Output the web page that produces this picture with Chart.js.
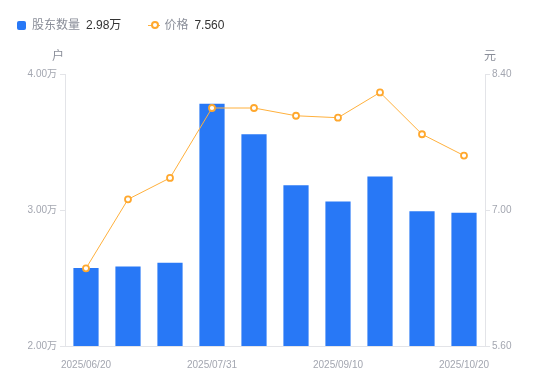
<!DOCTYPE html>
<html>
<head>
<meta charset="utf-8">
<script src="https://cdn.jsdelivr.net/npm/chart.js@4"></script>
<style>
    html, body { margin: 0; padding: 0; background: #fff; }
    body { width: 550px; height: 381px; position: relative; overflow: hidden;
           font-family: "Liberation Sans", "Noto Sans CJK SC", sans-serif; }
    #chartBox { position: absolute; left: 0; top: 0; width: 550px; height: 381px; }
    .legend { position: absolute; top: 17px; left: 17px; font-size: 12px; line-height: 16px;
              white-space: nowrap; display: flex; align-items: center; }
    .legend .name { color: #8a8e99; }
    .legend .val { color: #333; margin-left: 6px; }
    .sq { display: inline-block; width: 9px; height: 9px; background: #2878f6;
          border-radius: 2px; margin-right: 6px; }
    .ln { display: inline-block; position: relative; width: 12px; height: 9px; margin: 0 4px 0 27px; }
    .ln::before { content: ""; position: absolute; left: 0; right: 0; top: 4px; height: 1.5px; background: #ffb03c; }
    .ln::after { content: ""; position: absolute; left: 2.5px; top: 0.5px; width: 4px; height: 4px;
                 border: 2px solid #ffa82e; border-radius: 50%; background: #fff; }
</style>
</head>
<body>
<div id="chartBox"><canvas id="mainChart" width="550" height="381"></canvas></div>
<div class="legend">
    <span class="sq"></span><span class="name">股东数量</span><span class="val">2.98万</span>
    <span class="ln"></span><span class="name">价格</span><span class="val">7.560</span>
</div>
<script>
const dates = ["2025/06/20", "2025/06/30", "2025/07/10", "2025/07/31", "2025/08/10",
               "2025/08/31", "2025/09/10", "2025/09/30", "2025/10/10", "2025/10/20"];
const holders = [25740, 25840, 26130, 37820, 35570, 31820, 30620, 32460, 29900, 29800];
const prices = [6.40, 7.11, 7.33, 8.05, 8.05, 7.97, 7.95, 8.21, 7.78, 7.56];
const holderTicks = [20000, 30000, 40000];
const priceTicks = [5.6, 7.0, 8.4];
const shownLabels = [0, 3, 6, 9];

const FONT = "'Liberation Sans', 'Noto Sans CJK SC', sans-serif";
const AXIS_COLOR = "#e3e4e8";
const TICK_COLOR = "#a3a6b0";

// unit labels above the two y axes
const unitPlugin = {
    id: "units",
    afterDraw(chart) {
        const ctx = chart.ctx;
        const area = chart.chartArea;
        ctx.save();
        ctx.font = "12px " + FONT;
        ctx.fillStyle = "#8a8e99";
        ctx.textBaseline = "middle";
        ctx.textAlign = "center";
        ctx.fillText("户", area.left - 7, 57);
        ctx.fillText("元", area.right + 5, 57);
        ctx.restore();
    }
};

new Chart(document.getElementById("mainChart").getContext("2d"), {
    type: "bar",
    data: {
        labels: dates,
        datasets: [
            {
                type: "line",
                label: "价格",
                data: prices,
                yAxisID: "y1",
                borderColor: "#ffb03c",
                borderWidth: 1,
                pointRadius: 3,
                pointBorderWidth: 1.8,
                pointBorderColor: "#ffa82e",
                pointBackgroundColor: "#fff",
                tension: 0,
                order: 0
            },
            {
                type: "bar",
                label: "股东数量",
                data: holders,
                yAxisID: "y",
                backgroundColor: "#2878f6",
                barPercentage: 0.6,
                categoryPercentage: 1,
                order: 1
            }
        ]
    },
    options: {
        responsive: false,
        animation: false,
        layout: { padding: { top: 74, left: 0, right: 0, bottom: 0 } },
        plugins: {
            legend: { display: false },
            tooltip: { enabled: false }
        },
        scales: {
            x: {
                grid: { display: false },
                border: { display: true, color: AXIS_COLOR },
                afterFit(scale) { scale.height = 35; },
                ticks: {
                    autoSkip: false,
                    maxRotation: 0,
                    padding: 5,
                    color: TICK_COLOR,
                    font: { size: 10, family: FONT },
                    callback(v, i) { return shownLabels.includes(i) ? dates[i] : ""; }
                }
            },
            y: {
                position: "left",
                min: 20000,
                max: 40000,
                afterBuildTicks(scale) { scale.ticks = holderTicks.map(v => ({ value: v })); },
                afterFit(scale) { scale.width = 65; },
                grid: { drawOnChartArea: false, tickLength: 5, color: AXIS_COLOR },
                border: { display: true, color: AXIS_COLOR },
                ticks: {
                    padding: 3,
                    color: TICK_COLOR,
                    font: { size: 10, family: FONT },
                    callback: v => (v / 10000).toFixed(2) + "万"
                }
            },
            y1: {
                position: "right",
                min: 5.6,
                max: 8.4,
                afterBuildTicks(scale) { scale.ticks = priceTicks.map(v => ({ value: v })); },
                afterFit(scale) { scale.width = 65; },
                grid: { drawOnChartArea: false, tickLength: 5, color: AXIS_COLOR },
                border: { display: true, color: AXIS_COLOR },
                ticks: {
                    padding: 2,
                    color: TICK_COLOR,
                    font: { size: 10, family: FONT },
                    callback: v => v.toFixed(2)
                }
            }
        }
    },
    plugins: [unitPlugin]
});
</script>
</body>
</html>
